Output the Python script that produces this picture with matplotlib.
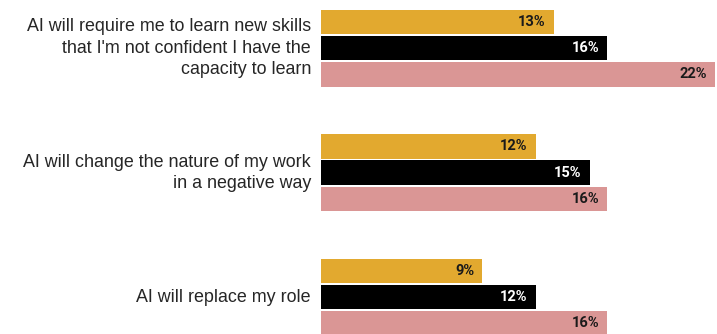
import matplotlib
matplotlib.use("Agg")
import matplotlib.pyplot as plt

# survey statements and the share agreeing, per respondent group
statements = [
    "AI will require me to learn new skills\nthat I'm not confident I have the\ncapacity to learn",
    "AI will change the nature of my work\nin a negative way",
    "AI will replace my role",
]
series_a = [13, 12, 9]
series_b = [16, 15, 12]
series_c = [22, 16, 16]

colors = ["#E2A92F", "#000000", "#DA9695"]
text_colors = ["#1a1a1a", "#ffffff", "#1a1a1a"]

W, H = 717, 334
fig = plt.figure(figsize=(W / 100, H / 100), dpi=100)
x0 = 321
px_per_pct = 17.9
ax = fig.add_axes([x0 / W, 0, 1 - x0 / W, 1])
ax.set_xlim(0, (W - x0) / px_per_pct)
ax.set_ylim(H, 0)
ax.axis("off")

group_pitch = 124.5
bar_pitch = 26.2
bar_h = 24.5
first_center = 22

for s, vals in enumerate([series_a, series_b, series_c]):
    for g, v in enumerate(vals):
        yc = first_center + g * group_pitch + s * bar_pitch
        ax.barh(yc, v, height=bar_h, color=colors[s], linewidth=0)
        ax.text(v - 8 / px_per_pct, yc, f"{v}%", ha="right", va="center",
                color=text_colors[s], fontsize=10.5, fontweight="bold",
                family="Roboto")

for g, label in enumerate(statements):
    yc = first_center + g * group_pitch + bar_pitch
    ax.text(-10 / px_per_pct, yc, label, ha="right", va="center",
            fontsize=12.9, color="#262626", family="Liberation Sans",
            linespacing=1.33, clip_on=False)

fig.savefig("out.png", dpi=100)
